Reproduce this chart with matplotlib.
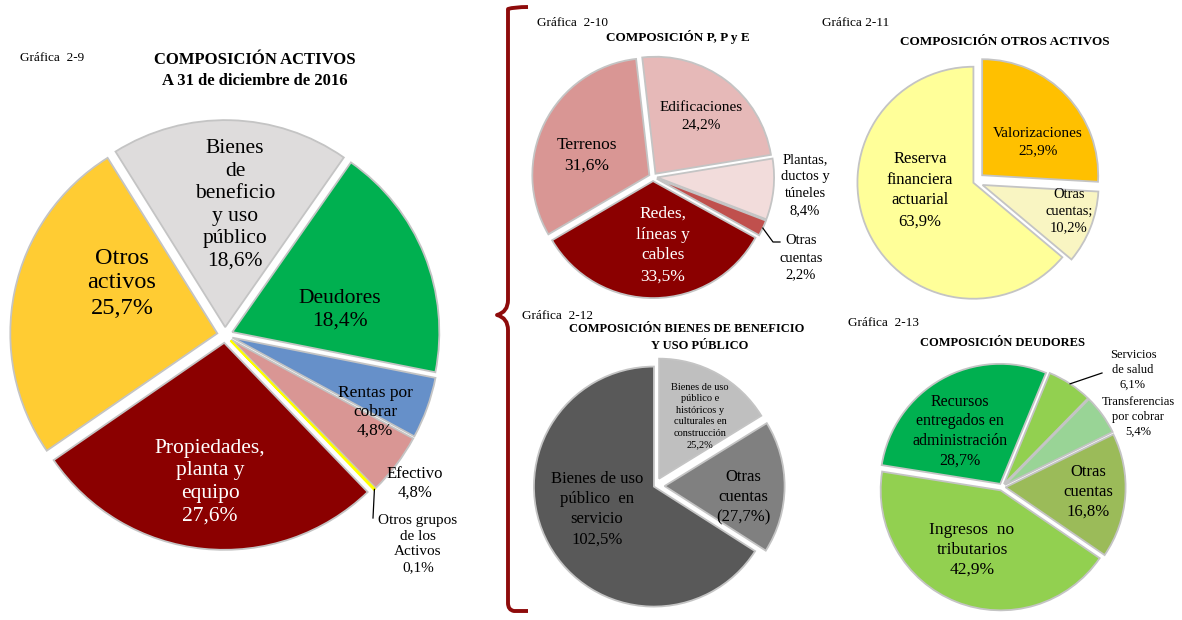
import numpy as np
import matplotlib
matplotlib.use("Agg")
import matplotlib.pyplot as plt
from matplotlib.path import Path
from matplotlib.patches import PathPatch

W, H = 1182, 620
plt.rcParams['font.family'] = ['Liberation Serif', 'DejaVu Serif']

# ---------------- data ----------------
# Gráfica 2-9 composición activos (orden horario desde arriba)
act_labels = ["Bienes\nde\nbeneficio\ny uso\npúblico", "Deudores", "Rentas por\ncobrar",
              "Efectivo", "Otros grupos\nde los\nActivos", "Propiedades,\nplanta y\nequipo",
              "Otros\nactivos"]
act_vals = [18.6, 18.4, 4.8, 4.8, 0.1, 27.6, 25.7]

# Gráfica 2-10 P, P y E
ppe_labels = ["Edificaciones", "Plantas,\nductos y\ntúneles", "Otras\ncuentas",
              "Redes,\nlíneas y\ncables", "Terrenos"]
ppe_vals = [24.2, 8.4, 2.2, 33.5, 31.6]

# Gráfica 2-11 otros activos
oa_labels = ["Valorizaciones", "Otras\ncuentas;", "Reserva\nfinanciera\nactuarial"]
oa_vals = [25.9, 10.2, 63.9]

# Gráfica 2-12 bienes de beneficio y uso público
bb_labels = ["Bienes de uso\npúblico e\nhistóricos y\nculturales en\nconstrucción",
             "Otras\ncuentas", "Bienes de uso\npúblico  en\nservicio"]
bb_vals = [25.2, -27.7, 102.5]

# Gráfica 2-13 deudores
de_labels = ["Recursos\nentregados en\nadministración", "Servicios\nde salud",
             "Transferencias\npor cobrar", "Otras\ncuentas", "Ingresos  no\ntributarios"]
de_vals = [28.7, 6.1, 5.4, 16.8, 42.9]


def pct(v):
    s = f"{abs(v):.1f}".replace(".", ",") + "%"
    return f"({s})" if v < 0 else s


fig = plt.figure(figsize=(W / 100, H / 100), dpi=100)
ax = fig.add_axes([0, 0, 1, 1])

RIM = '#C4C4C4'


def pie(vals, colors, center, R, start, expl):
    cx, cy = center
    wedges, _ = ax.pie(np.abs(vals), colors=colors, explode=[e * R for e in expl],
                       startangle=start, counterclock=False, center=(cx, H - cy),
                       radius=R, frame=True,
                       wedgeprops=dict(edgecolor=RIM, linewidth=1.3))
    return wedges


def labels(texts, vals, pos, sizes, colors=None, ls=1.3):
    for i, (t, v) in enumerate(zip(texts, vals)):
        x, y = pos[i]
        c = colors[i] if colors else 'black'
        ax.text(x, H - y, t + "\n" + pct(v), ha='center', va='center',
                fontsize=sizes[i], color=c, linespacing=ls)


def rim_point(w):
    th = np.deg2rad((w.theta1 + w.theta2) / 2)
    return w.center[0] + w.r * np.cos(th), w.center[1] + w.r * np.sin(th)


def txt(x, y, s, size, bold=False, ha='center'):
    ax.text(x, H - y, s, ha=ha, va='center', fontsize=size,
            fontweight='bold' if bold else 'normal')


# ---- Gráfica 2-9 ----
act_colors = ['#DEDCDC', '#00B050', '#6690C9', '#D99694', '#FFFF00', '#8B0000', '#FFCC33']
w = pie(act_vals, act_colors, (225, 335), 207, 122, [0.038] * 7)
w[4].set_edgecolor('#FFFF00')
labels(act_labels, act_vals,
       [(235, 205), (340, 310), (375, 412), (415, 483), (418, 544), (210, 482), (122, 283)],
       [15.5, 15.5, 12.5, 12, 11, 15.5, 17.5],
       ['black'] * 5 + ['white', 'black'], ls=1.25)
x0, y0 = rim_point(w[4])
ax.plot([x0, 373], [y0, H - 518], color='black', lw=0.9)
txt(20, 58, "Gráfica  2-9", 9.5, ha='left')
txt(255, 60, "COMPOSICIÓN ACTIVOS", 12, True)
txt(255, 81, "A 31 de diciembre de 2016", 12, True)

# ---- Gráfica 2-10 ----
ppe_colors = ['#E6B9B8', '#F2DCDB', '#C0504D', '#8B0000', '#D99694']
w = pie(ppe_vals, ppe_colors, (653, 177), 117, 96.5, [0.035] * 5)
labels(ppe_labels, ppe_vals,
       [(701, 116), (805, 185), (801, 258), (663, 245), (587, 155)],
       [11, 10.5, 10.5, 12.5, 12.5],
       ['black', 'black', 'black', 'white', 'black'], ls=1.4)
x0, y0 = rim_point(w[2])
ax.plot([x0, 773, 780], [y0, H - 242, H - 242], color='black', lw=0.9)
txt(537, 23, "Gráfica  2-10", 9.5, ha='left')
txt(678, 37, "COMPOSICIÓN P, P y E", 9.5, True)

# ---- Gráfica 2-11 ----
oa_colors = ['#FFC000', '#F9F5C2', '#FFFF99']
pie(oa_vals, oa_colors, (975, 182), 116, 90, [0.085, 0.07, 0.015])
labels(oa_labels, oa_vals, [(1038, 142), (1069, 211), (920, 190)],
       [11, 10.5, 12], ls=1.4)
txt(822, 23, "Gráfica 2-11", 9.5, ha='left')
txt(1005, 42, "COMPOSICIÓN OTROS ACTIVOS", 9.5, True)

# ---- Gráfica 2-12 ----
bb_colors = ['#BFBFBF', '#808080', '#595959']
pie(bb_vals, bb_colors, (655, 486), 120, 90, [0.07, 0.08, 0.01])
labels(bb_labels, bb_vals, [(700, 416), (743, 497), (597, 509)],
       [7.5, 12, 12], ls=1.35)
txt(522, 316, "Gráfica  2-12", 9.5, ha='left')
txt(687, 329, "COMPOSICIÓN BIENES DE BENEFICIO", 9, True)
txt(700, 346, "Y USO PÚBLICO", 9, True)

# ---- Gráfica 2-13 ----
de_colors = ['#00B050', '#92D050', '#99D496', '#9BBB59', '#92D050']
w = pie(de_vals, de_colors, (1002, 487), 120, 171, [0.03] * 5)
labels(de_labels, de_vals,
       [(960, 431), (1133, 370), (1138, 417), (1088, 492), (972, 550)],
       [11.5, 9, 9, 12, 12.5], ls=1.3)
x0, y0 = rim_point(w[1])
ax.plot([x0, 1102], [y0, H - 373], color='black', lw=0.9)
txt(848, 323, "Gráfica  2-13", 9.5, ha='left')
txt(1002, 343, "COMPOSICIÓN DEUDORES", 9, True)

# ---- llave roja ----
tip = 497
pts = [(528, 7), (514, 7), (508, 9), (508, 16), (508, 300), (508, 312), (tip, 315),
       (508, 318), (508, 330), (508, 603), (508, 610), (514, 611), (528, 611)]
codes = [Path.MOVETO, Path.CURVE3, Path.CURVE3, Path.LINETO, Path.LINETO,
         Path.CURVE3, Path.CURVE3, Path.CURVE3, Path.CURVE3, Path.LINETO,
         Path.CURVE3, Path.CURVE3, Path.LINETO]
pts = [(x, H - y) for x, y in pts]
ax.add_patch(PathPatch(Path(pts, codes), fill=False, edgecolor='#8E0B0B', lw=2.8,
                       capstyle='butt', joinstyle='round'))

ax.set_xlim(0, W)
ax.set_ylim(0, H)
ax.axis('off')
fig.savefig("out.png", dpi=100, facecolor='white')
